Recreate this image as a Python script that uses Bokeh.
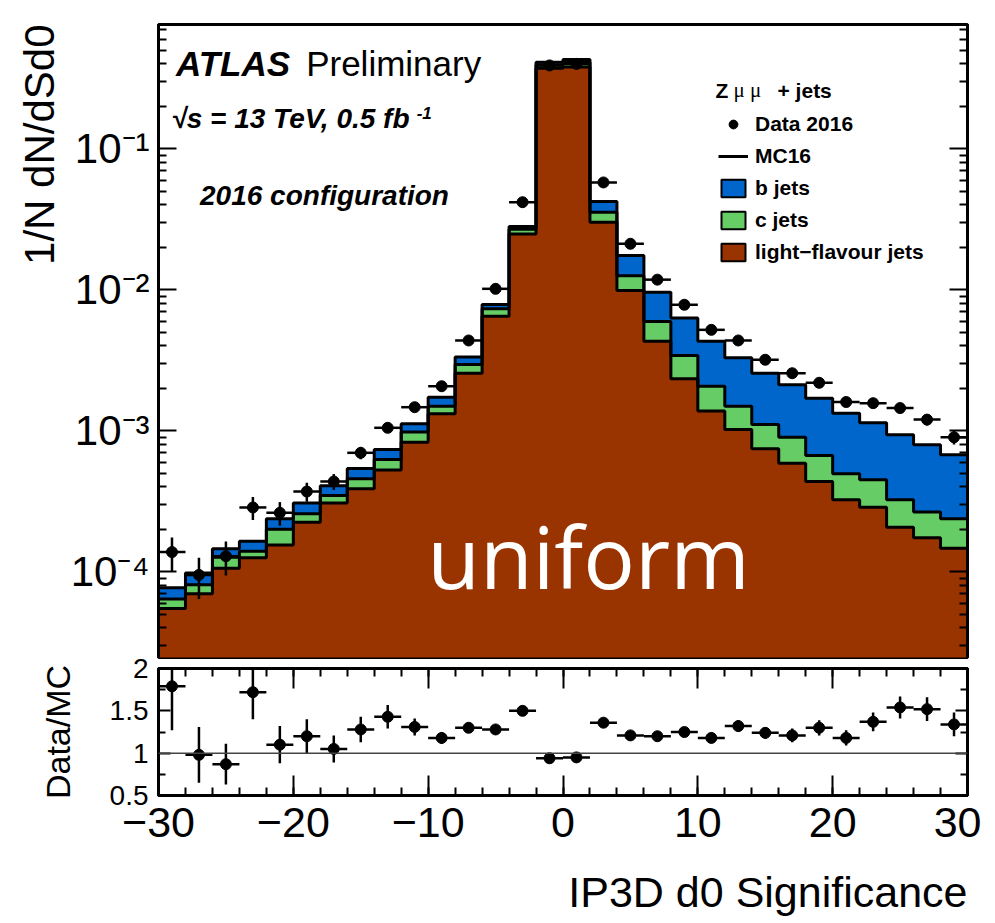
import numpy as np
from bokeh.plotting import figure
from bokeh.layouts import column
from bokeh.models import (LogAxis, LinearAxis, FixedTicker, Span, Label, Title,
                          Legend, LegendItem, Range1d)
from bokeh.embed import file_html
from bokeh.resources import INLINE

FONT = "Liberation Sans"

# ---------------- data ----------------
bin_centers = [-29, -27, -25, -23, -21, -19, -17, -15, -13, -11, -9, -7, -5, -3, -1,
               1, 3, 5, 7, 9, 11, 13, 15, 17, 19, 21, 23, 25, 27, 29]
bin_half_width = 1.0

light_jets = [5.5e-5, 7.0e-5, 1.06e-4, 1.26e-4, 1.55e-4, 2.25e-4, 3.07e-4, 3.88e-4, 5.28e-4, 8.3e-4,
              1.32e-3, 2.56e-3, 6.5e-3, 2.49e-2, 0.372, 0.380, 3.01e-2, 9.9e-3, 4.32e-3, 2.34e-3,
              1.38e-3, 1.02e-3, 7.45e-4, 5.89e-4, 4.37e-4, 3.24e-4, 2.87e-4, 2.07e-4, 1.74e-4, 1.47e-4]
c_jets = [0.9e-5, 1.1e-5, 2.1e-5, 1.4e-5, 4.5e-5, 3.3e-5, 4.0e-5, 6.9e-5, 9.7e-5, 1.5e-4,
          1.7e-4, 3.9e-4, 8.3e-4, 2.0e-3, 0.020, 0.030, 5.4e-3, 2.7e-3, 1.64e-3, 1.08e-3,
          6.9e-4, 4.7e-4, 3.65e-4, 3.11e-4, 2.31e-4, 1.71e-4, 1.62e-4, 1.17e-4, 9.1e-5, 9.1e-5]
b_jets = [1.3e-5, 1.7e-5, 1.85e-5, 2.5e-5, 3.8e-5, 5.0e-5, 6.0e-5, 8.3e-5, 1.12e-4, 1.4e-4,
          2.4e-4, 3.8e-4, 5.4e-4, 1.2e-3, 0.018, 0.020, 6.8e-3, 4.9e-3, 3.66e-3, 2.88e-3,
          2.24e-3, 1.80e-3, 1.45e-3, 1.22e-3, 1.03e-3, 8.35e-4, 6.9e-4, 6.13e-4, 5.31e-4, 4.38e-4]

data_2016 = [1.38e-4, 9.5e-5, 1.29e-4, 2.86e-4, 2.62e-4, 3.71e-4, 4.37e-4, 6.98e-4, 1.05e-3, 1.47e-3,
             2.07e-3, 4.37e-3, 1.016e-2, 4.18e-2, 0.39, 0.40, 5.77e-2, 2.12e-2, 1.18e-2, 7.83e-3,
             5.2e-3, 4.37e-3, 3.19e-3, 2.56e-3, 2.19e-3, 1.60e-3, 1.57e-3, 1.45e-3, 1.20e-3, 9.0e-4]
data_2016_err = [0.37e-4, 0.31e-4, 0.35e-4, 0.53e-4, 0.50e-4, 0.57e-4, 0.56e-4, 0.70e-4, 0.85e-4, 1.1e-4,
                 1.0e-4, 1.4e-4, 2e-4, 5e-4, 2e-3, 2e-3, 6e-4, 4e-4, 3e-4, 2.5e-4,
                 2e-4, 2e-4, 1.7e-4, 1.5e-4, 1.4e-4, 1.2e-4, 1.2e-4, 1.2e-4, 1.1e-4, 1.0e-4]

ratio = [1.79, 0.98, 0.87, 1.72, 1.10, 1.20, 1.05, 1.28, 1.43, 1.31,
         1.18, 1.30, 1.28, 1.50, 0.94, 0.95, 1.36, 1.21, 1.20, 1.25,
         1.18, 1.32, 1.24, 1.21, 1.30, 1.18, 1.37, 1.54, 1.52, 1.34]
ratio_err = [0.52, 0.33, 0.24, 0.32, 0.22, 0.20, 0.16, 0.15, 0.14, 0.10,
             0.07, 0.05, 0.03, 0.02, 0.01, 0.01, 0.02, 0.03, 0.04, 0.05,
             0.06, 0.07, 0.07, 0.08, 0.09, 0.09, 0.11, 0.13, 0.14, 0.14]

y_ticks_top = [1e-4, 1e-3, 1e-2, 1e-1]
y_tick_labels_top = ["10⁻⁴", "10⁻³", "10⁻²", "10⁻¹"]
x_ticks = [-30, -20, -10, 0, 10, 20, 30]
x_tick_labels = ["−30", "−20", "−10", "0", "10", "20", "30"]
ratio_ticks = [0.5, 1, 1.5, 2]
ratio_tick_labels = ["0.5", "1", "1.5", "2"]

BROWN = "#993300"
GREEN = "#66cc66"
BLUE = "#0066cc"

# ---------------- derived ----------------
centers = np.array(bin_centers, dtype=float)
lefts = centers - bin_half_width
rights = centers + bin_half_width
edges = np.append(lefts, rights[-1])
L = np.array(light_jets)
LC = L + np.array(c_jets)
TOT = LC + np.array(b_jets)


def ext(a):
    return np.append(a, a[-1])


d = np.array(data_2016)
de = np.array(data_2016_err)
r = np.array(ratio)
re_ = np.array(ratio_err)

minor_log = [k * 10.0 ** n for n in range(-6, 1) for k in range(2, 10)]
floor = np.full(len(L), 1e-7)

# ---------------- top panel ----------------
p1 = figure(frame_width=809, frame_height=633, y_axis_type="log",
            x_range=Range1d(-30, 30), y_range=Range1d(2.467e-5, 0.761),
            x_axis_location=None, title=None, toolbar_location=None,
            output_backend="svg", min_border_left=158, min_border_right=14,
            min_border_top=24, min_border_bottom=5)
p1.xgrid.grid_line_color = None
p1.ygrid.grid_line_color = None
p1.outline_line_color = "black"
p1.outline_line_width = 3

p1.varea_step(x=edges, y1=ext(floor), y2=ext(L), step_mode="after", fill_color=BROWN)
p1.varea_step(x=edges, y1=ext(L), y2=ext(LC), step_mode="after", fill_color=GREEN)
p1.varea_step(x=edges, y1=ext(LC), y2=ext(TOT), step_mode="after", fill_color=BLUE)
p1.step(x=edges, y=ext(L), mode="after", line_color="black", line_width=3)
p1.step(x=edges, y=ext(LC), mode="after", line_color="black", line_width=3)
r_mc = p1.step(x=edges, y=ext(TOT), mode="after", line_color="black", line_width=3)

p1.segment(x0=lefts, x1=rights, y0=d, y1=d, line_color="black", line_width=2.5)
p1.segment(x0=centers, x1=centers, y0=d - de, y1=d + de, line_color="black", line_width=2.5)
r_data = p1.scatter(x=centers, y=d, size=11, marker="circle", fill_color="black", line_color="black")

# hidden outlined copies of the stacked components, used as legend swatches
r_b = p1.quad(left=lefts, right=rights, bottom=LC, top=TOT, fill_color=BLUE,
              line_color="black", line_width=2, visible=False)
r_c = p1.quad(left=lefts, right=rights, bottom=L, top=LC, fill_color=GREEN,
              line_color="black", line_width=2, visible=False)
r_l = p1.quad(left=lefts, right=rights, bottom=floor, top=L, fill_color=BROWN,
              line_color="black", line_width=2, visible=False)

legend = Legend(items=[LegendItem(label="Data 2016", renderers=[r_data]),
                       LegendItem(label="MC16", renderers=[r_mc]),
                       LegendItem(label="b jets", renderers=[r_b]),
                       LegendItem(label="c jets", renderers=[r_c]),
                       LegendItem(label="light−flavour jets", renderers=[r_l])],
                location=(560, 393), border_line_color=None, background_fill_alpha=0,
                padding=0, margin=0, spacing=7, glyph_width=30, glyph_height=22,
                label_height=25, label_standoff=7, label_text_font=FONT,
                label_text_font_style="bold", label_text_font_size="21px",
                label_text_color="black")
p1.add_layout(legend)

ya = p1.yaxis[0]
ya.ticker = FixedTicker(ticks=y_ticks_top, minor_ticks=minor_log)
ya.major_label_overrides = dict(zip(y_ticks_top, y_tick_labels_top))
ya.major_label_text_font = FONT
ya.major_label_text_font_size = "42px"
ya.major_label_text_color = "black"
ya.major_label_standoff = 9
ya.major_tick_in = 18
ya.major_tick_out = 0
ya.minor_tick_in = 8
ya.minor_tick_out = 0
ya.axis_line_width = 3
ya.major_tick_line_width = 2
ya.minor_tick_line_width = 2

ra = LogAxis(ticker=FixedTicker(ticks=y_ticks_top, minor_ticks=minor_log),
             major_label_text_font_size="6px", major_label_text_color=None, major_label_standoff=0,
             major_tick_in=18, major_tick_out=0, minor_tick_in=8, minor_tick_out=0,
             axis_line_width=3, major_tick_line_width=2, minor_tick_line_width=2)
p1.add_layout(ra, "right")

p1.add_layout(Title(text="1/N dN/dSd0", align="right", text_font=FONT, text_color="black",
                    text_font_size="42px", text_font_style="normal", standoff=10), "left")

# texts inside the frame
def lab(x, y, text, size, style="normal", font=FONT, **kw):
    p1.add_layout(Label(x=x, y=y, text=text, text_font=font, text_font_style=style,
                        text_font_size=size, text_baseline="alphabetic",
                        text_color=kw.pop("color", "black"), **kw))


lab(-28.70, 0.402, "ATLAS", "35px", "bold italic")
lab(-19.05, 0.402, "Preliminary", "35px")
lab(-29.05, 0.1651, "√s = 13 TeV, 0.5 fb", "28px", "bold italic")
lab(-10.85, 0.1803, "-1", "17px", "bold italic")
lab(-26.92, 0.0463, "2016 configuration", "28px", "bold italic")
lab(11.31, 0.2596, "Z", "21px", "bold")
lab(12.65, 0.2596, "μ μ", "21px", font="Liberation Serif")
lab(15.91, 0.2596, "+ jets", "21px", "bold")
lab(1.89, 1.30e-4, "uniform", "86px", font="Open Sans", color="white", text_align="center")

# ---------------- ratio panel ----------------
p2 = figure(frame_width=809, frame_height=127, x_range=p1.x_range, y_range=Range1d(0.5, 2),
            title=None, toolbar_location=None, output_backend="svg",
            min_border_left=158, min_border_right=14, min_border_top=26, min_border_bottom=125)
p2.margin = (-20, 0, 0, 0)
p2.border_fill_color = None
p2.background_fill_color = "white"
p2.xgrid.grid_line_color = None
p2.ygrid.grid_line_color = None
p2.outline_line_color = "black"
p2.outline_line_width = 3

p2.add_layout(Span(location=1, dimension="width", line_color="#444444", line_width=1.5))
p2.segment(x0=lefts, x1=rights, y0=r, y1=r, line_color="black", line_width=2.5)
p2.segment(x0=centers, x1=centers, y0=r - re_, y1=r + re_, line_color="black", line_width=2.5)
p2.scatter(x=centers, y=r, size=11, marker="circle", fill_color="black", line_color="black")

xa = p2.xaxis[0]
xa.ticker = FixedTicker(ticks=x_ticks, minor_ticks=list(range(-30, 31, 2)))
xa.major_label_overrides = dict(zip(x_ticks, x_tick_labels))
xa.major_label_text_font = FONT
xa.major_label_text_font_size = "43px"
xa.major_label_text_color = "black"
xa.major_label_standoff = 12
xa.major_tick_in = 20
xa.major_tick_out = 0
xa.minor_tick_in = 8
xa.minor_tick_out = 0
xa.axis_line_width = 3
xa.major_tick_line_width = 2
xa.minor_tick_line_width = 2

ya2 = p2.yaxis[0]
ya2.ticker = FixedTicker(ticks=ratio_ticks, minor_ticks=[0.75, 1.25, 1.75])
ya2.major_label_overrides = dict(zip(ratio_ticks, ratio_tick_labels))
ya2.major_label_text_font = FONT
ya2.major_label_text_font_size = "28px"
ya2.major_label_text_color = "black"
ya2.major_label_standoff = 10
ya2.major_tick_in = 12
ya2.major_tick_out = 0
ya2.minor_tick_in = 7
ya2.minor_tick_out = 0
ya2.axis_line_width = 3
ya2.major_tick_line_width = 2
ya2.minor_tick_line_width = 2
ya2.axis_label = "Data/MC"
ya2.axis_label_text_font = FONT
ya2.axis_label_text_font_size = "34px"
ya2.axis_label_text_font_style = "normal"
ya2.axis_label_text_color = "black"
ya2.axis_label_standoff = 30

ta = LinearAxis(ticker=FixedTicker(ticks=x_ticks, minor_ticks=list(range(-30, 31, 2))),
                major_label_text_font_size="6px", major_label_text_color=None, major_label_standoff=0,
                major_tick_in=20, major_tick_out=0, minor_tick_in=8, minor_tick_out=0,
                axis_line_width=3, major_tick_line_width=2, minor_tick_line_width=2)
p2.add_layout(ta, "above")
ra2 = LinearAxis(ticker=FixedTicker(ticks=ratio_ticks, minor_ticks=[0.75, 1.25, 1.75]),
                 major_label_text_font_size="6px", major_label_text_color=None, major_label_standoff=0,
                 major_tick_in=12, major_tick_out=0, minor_tick_in=7, minor_tick_out=0,
                 axis_line_width=3, major_tick_line_width=2, minor_tick_line_width=2)
p2.add_layout(ra2, "right")

p2.add_layout(Title(text="IP3D d0 Significance", align="right", text_font=FONT, text_color="black",
                    text_font_size="43px", text_font_style="normal", standoff=52), "below")

layout = column(p1, p2)
open("out.html", "w").write(file_html(layout, INLINE))
